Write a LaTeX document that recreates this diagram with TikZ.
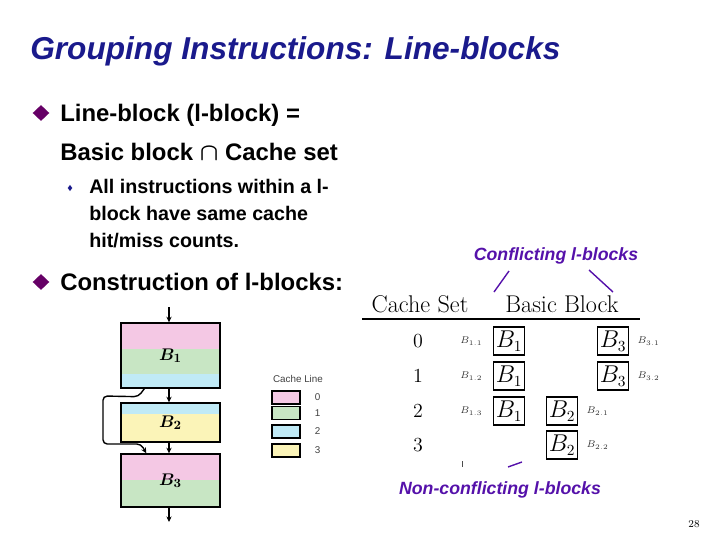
\documentclass[tikz,border=0pt]{standalone}
\usepackage{fontspec}
\setsansfont{Liberation Sans}
\usepackage{amsmath,bm}
\usetikzlibrary{positioning,calc,arrows.meta,shapes.geometric}
\definecolor{titleblue}{HTML}{1A1A8C}
\definecolor{bulletpurple}{HTML}{660066}
\definecolor{notepurple}{HTML}{5511AA}
\definecolor{linepink}{HTML}{F4C8E4}
\definecolor{linegreen}{HTML}{C8E6C4}
\definecolor{lineblue}{HTML}{C0EAF6}
\definecolor{lineyellow}{HTML}{FBF4B8}

\begin{document}
\begin{tikzpicture}[x=0.25mm, y=-0.25mm,
  titletext/.style={font=\sffamily\bfseries\itshape\fontsize{22.5}{26}\selectfont,
               text=titleblue, anchor=base west, inner sep=0pt},
  mainline/.style={font=\sffamily\bfseries\fontsize{17}{20}\selectfont,
               anchor=base west, inner sep=0pt},
  subline/.style={font=\sffamily\bfseries\fontsize{14}{19.2}\selectfont,
               anchor=north west, align=left, inner sep=0pt},
  bulletmark/.style={diamond, fill=bulletpurple, inner sep=0pt,
               minimum width=4.2mm, minimum height=4mm},
  subbullet/.style={diamond, fill=titleblue, inner sep=0pt,
               minimum width=1.2mm, minimum height=1.6mm},
  note/.style={font=\sffamily\bfseries\itshape\fontsize{12.6}{15}\selectfont,
               text=notepurple, inner sep=0pt},
  leader/.style={notepurple, line width=0.35mm},
  hdr/.style={font=\rmfamily\fontsize{17.2}{19}\selectfont, anchor=base, inner sep=0pt},
  setno/.style={font=\rmfamily\fontsize{14.2}{16}\selectfont, inner sep=0pt},
  lblock/.style={draw, line width=0.45mm, minimum width=7.75mm, minimum height=7mm,
               inner sep=0pt, font=\fontsize{16}{18}\selectfont},
  subblk/.style={font=\fontsize{7}{8}\selectfont, inner sep=0pt, text=black!80},
  bbblock/.style={draw, line width=0.35mm, minimum width=24.75mm, inner sep=0pt,
               font=\fontsize{12.8}{14}\selectfont},
  cfg/.style={-{Stealth[length=1.4mm, width=1.3mm]}, line width=0.35mm},
  legbox/.style={draw, line width=0.35mm, minimum width=7mm, minimum height=3.25mm,
               inner sep=0pt},
  legtext/.style={font=\sffamily\fontsize{7}{8}\selectfont, inner sep=0pt, text=black!75},
]
\useasboundingbox (0,0) rectangle (720,540);

% Title and bullet text.
\node[titletext] (title) at (30,59) {Grouping Instructions: Line-blocks};

\node[bulletmark] (bul1) at (41,113) {};
\node[mainline] (line1) at (60,121) {Line-block (l-block) =};
\node[mainline] (line2) at (60,160) {Basic block $\bm{\cap}$ Cache set};
\node[subbullet] (bul2) at (70,188) {};
\node[subline] (same) at (89,179)
  {All instructions within a l-\\block have same cache\\hit/miss counts.};
\node[bulletmark] (bul3) at (41,282) {};
\node[mainline] (line3) at (60,290) {Construction of l-blocks:};

% Basic blocks with their cache-line bands.
\fill[linepink]   (121,323) rectangle (220,349);
\fill[linegreen]  (121,349) rectangle (220,374);
\fill[lineblue]   (121,374) rectangle (220,388);
\fill[lineblue]   (121,403) rectangle (220,414);
\fill[lineyellow] (121,414) rectangle (220,442);
\fill[linepink]   (121,454) rectangle (220,480);
\fill[linegreen]  (121,480) rectangle (220,507);
\node[bbblock, minimum height=16.25mm] (b1) at (170.5,355.5) {$\bm{B_1}$};
\node[bbblock, minimum height=9.75mm]  (b2) at (170.5,422.5) {$\bm{B_2}$};
\node[bbblock, minimum height=13.25mm] (b3) at (170.5,480.5) {$\bm{B_3}$};

\coordinate (entry) at (169,307);
\coordinate (exit) at (169,522);
\draw[cfg] (entry) -- (entry |- b1.north);
\draw[cfg] (b1.south -| entry) -- (b2.north -| entry);
\draw[cfg] (b2.south -| entry) -- (b3.north -| entry);
\draw[cfg] (b3.south -| exit) -- (exit);
\draw[cfg, rounded corners=3pt]
  ($(b1.south west)+(24,0)$) -- ++(-6,8) -- (103,396) -- (103,444)
  -- (141,444) -- ($(b3.north west)+(26,0)$);

% Legend of cache lines.
\node[legtext] (legtitle) at (298,379) {Cache Line};
\foreach \row/\col/\yy in {0/linepink/397.5, 1/linegreen/413, 2/lineblue/431.5, 3/lineyellow/450.5} {
  \node[legbox, fill=\col] (leg\row) at (286,\yy) {};
  \node[legtext, right=3.5mm of leg\row] (legno\row) {\row};
}

% Cache set / basic block table.
\node[hdr] (hset) at (420,312) {Cache Set};
\node[hdr] (hblock) at (562,312) {Basic Block};
\draw[line width=0.5mm] (362,319) -- (640,319);

\foreach \row/\yy in {0/341, 1/376, 2/411, 3/445}
  \node[setno] (set\row) at (418,\yy) {\row};

\node[lblock] (l11) at (509,341) {$B_1$};
\node[lblock] (l12) at (509,376) {$B_1$};
\node[lblock] (l13) at (509,411) {$B_1$};
\node[lblock] (l21) at (562,411) {$B_2$};
\node[lblock] (l22) at (562,445) {$B_2$};
\node[lblock] (l31) at (613,341) {$B_3$};
\node[lblock] (l32) at (613,376) {$B_3$};

\node[subblk, left=2.5mm of l11] {$B_{1.1}$};
\node[subblk, left=2.5mm of l12] {$B_{1.2}$};
\node[subblk, left=2.5mm of l13] {$B_{1.3}$};
\node[subblk, right=2mm of l21] {$B_{2.1}$};
\node[subblk, right=2mm of l22] {$B_{2.2}$};
\node[subblk, right=2mm of l31] {$B_{3.1}$};
\node[subblk, right=2mm of l32] {$B_{3.2}$};

% Annotations.
\node[note] (conf) at (556,256) {Conflicting l-blocks};
\coordinate (cA0) at (509,271);
\coordinate (cA) at (494,292);
\coordinate (cB0) at (589,270);
\coordinate (cB) at (613,292);
\draw[leader] (cA0) -- (cA);
\draw[leader] (cB0) -- (cB);

\node[note] (nonconf) at (500,490) {Non-conflicting l-blocks};
\coordinate (nA) at (462,461);
\coordinate (nB) at (522,462);
\draw[line width=0.25mm, black!70] (nA) -- ++(0,6);
\draw[leader] (nB) -- ++(-14,5);

\node[font=\rmfamily\fontsize{7.5}{9}\selectfont] (page) at (694,524) {28};
\end{tikzpicture}
\end{document}
